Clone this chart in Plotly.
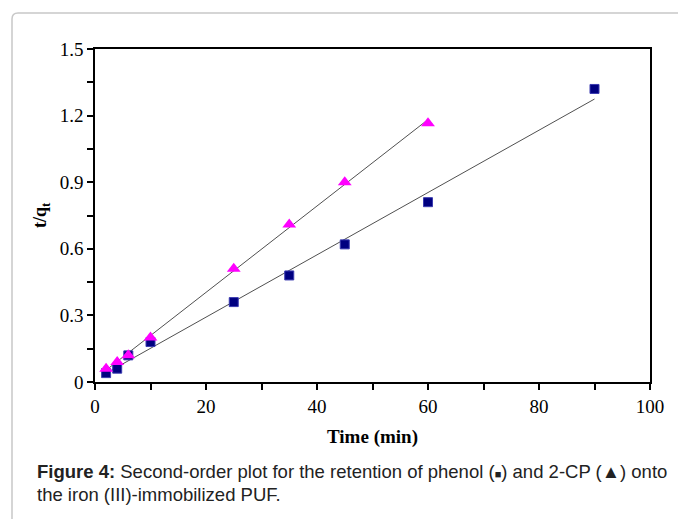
import numpy as np
import plotly.graph_objects as go

time_phenol = [2, 4, 6, 10, 25, 35, 45, 60, 90]
tq_phenol = [0.04, 0.06, 0.12, 0.18, 0.36, 0.48, 0.62, 0.81, 1.32]
time_cp = [2, 4, 6, 10, 25, 35, 45, 60]
tq_cp = [0.06, 0.09, 0.12, 0.20, 0.51, 0.71, 0.90, 1.165]

W, H = 678, 519
L, R, T, B = 95, 650, 49, 382


def px(x):
    return (x - L) / (R - L)


def py(y):
    return (B - y) / (B - T)


fig = go.Figure()

# least-squares trend lines from data
for xs, ys in [(time_phenol, tq_phenol), (time_cp, tq_cp)]:
    m, c = np.polyfit(xs, ys, 1)
    xe = [min(xs), max(xs)]
    fig.add_trace(go.Scatter(x=xe, y=[m * v + c for v in xe], mode="lines",
                             line=dict(color="#505050", width=1), showlegend=False,
                             hoverinfo="skip"))

fig.add_trace(go.Scatter(x=time_phenol, y=tq_phenol, mode="markers", name="phenol",
                         marker=dict(symbol="square", size=9, color="#000080",
                                     line=dict(color="#3b3bb0", width=1)),
                         showlegend=False))
fig.add_trace(go.Scatter(x=time_cp, y=tq_cp, mode="markers", name="2-CP",
                         marker=dict(symbol="triangle-up", size=12, color="#FF00FF",
                                     line=dict(width=0)),
                         showlegend=False))

serif = "Liberation Serif, Times New Roman, serif"
sans = "Liberation Sans, Arial, sans-serif"

fig.update_xaxes(range=[0, 100], dtick=20, tick0=0, showline=True, linecolor="black",
                 linewidth=1.5, mirror=True, ticks="outside", ticklen=6, tickwidth=1.5,
                 tickcolor="black", showgrid=False, zeroline=False,
                 minor=dict(ticks="outside", dtick=10, ticklen=6, tickwidth=1.5,
                            tickcolor="black", showgrid=False),
                 tickfont=dict(family=serif, size=19, color="black"),
                 title=dict(text="<b>Time (min)</b>", font=dict(family=serif, size=19, color="black"),
                            standoff=14))
fig.update_yaxes(range=[0, 1.5], dtick=0.3, tick0=0, showline=True, linecolor="black",
                 linewidth=1.5, mirror=True, ticks="outside", ticklen=6, tickwidth=1.5,
                 tickcolor="black", showgrid=False, zeroline=False,
                 minor=dict(ticks="outside", dtick=0.15, ticklen=6, tickwidth=1.5,
                            tickcolor="black", showgrid=False),
                 tickfont=dict(family=serif, size=19, color="black"),
                 title=dict(text="<b>t/q<sub>t</sub></b>", font=dict(family=serif, size=18, color="black"),
                            standoff=8))

# card border (rounded, open to the right and bottom)
r = 6
fig.add_shape(type="path", xref="paper", yref="paper",
              path=(f"M {px(12)} {py(530)} L {px(12)} {py(13 + r)} "
                    f"Q {px(12)} {py(13)} {px(12 + r)} {py(13)} L {px(690)} {py(13)}"),
              line=dict(color="#c8c8c8", width=1.5), layer="above")

fig.add_annotation(xref="paper", yref="paper", x=px(35), y=py(471), xanchor="left", yanchor="middle",
                   showarrow=False, align="left",
                   text=("<b>Figure 4:</b> Second-order plot for the retention of phenol "
                         "(<span style=\"font-size:11px\">■</span>) and 2-CP (▲) onto"),
                   font=dict(family=sans, size=18.5, color="#222222"))
fig.add_annotation(xref="paper", yref="paper", x=px(35), y=py(494), xanchor="left", yanchor="middle",
                   showarrow=False, align="left",
                   text="the iron (III)-immobilized PUF.",
                   font=dict(family=sans, size=18.5, color="#222222"))

fig.update_layout(width=W, height=H, margin=dict(l=L, r=W - R, t=T, b=H - B),
                  paper_bgcolor="white", plot_bgcolor="white", showlegend=False)

fig.write_html("out.html", config={"displayModeBar": False},
               post_script="document.body.style.margin='0';document.body.style.padding='0';")
